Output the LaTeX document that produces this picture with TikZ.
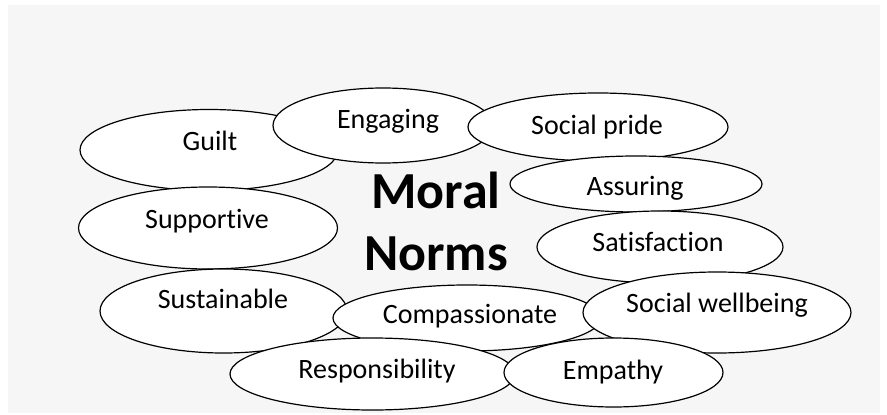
\documentclass[tikz,border=0pt]{standalone}
\usepackage{fontspec}
\setmainfont{Carlito}[Ligatures=NoCommon]
\usetikzlibrary{shapes.geometric}
\definecolor{bggray}{HTML}{F6F6F6}
\tikzset{
  oval/.style={ellipse, draw=black, fill=white, line width=1.2pt, inner sep=0pt},
  lbl/.style={anchor=base, inner sep=0pt, font=\fontsize{28}{34}\selectfont},
  big/.style={anchor=base, inner sep=0pt, font=\fontsize{52}{62}\selectfont\bfseries}
}
\begin{document}
\begin{tikzpicture}[x=1pt,y=-1pt]
\useasboundingbox (0,0) rectangle (887,415);
\fill[bggray] (8,5) rectangle (880,413);
% ellipses, in drawing order
\node[oval, minimum width=258pt, minimum height=81pt] (guilt) at (209,150) {};
\node[oval, minimum width=220pt, minimum height=75pt] (engaging) at (383,125.5) {};
\node[oval, minimum width=260pt, minimum height=68pt] (pride) at (598,127) {};
\node[oval, minimum width=252pt, minimum height=56pt] (assuring) at (636,184) {};
\node[oval, minimum width=246pt, minimum height=72pt] (satisfaction) at (660,247) {};
\node[oval, minimum width=259pt, minimum height=82pt] (supportive) at (208,228) {};
\node[oval, minimum width=247pt, minimum height=84pt] (sustainable) at (223.5,311) {};
\node[oval, minimum width=268pt, minimum height=66pt] (compassionate) at (467,318) {};
\node[oval, minimum width=268pt, minimum height=81pt] (wellbeing) at (717,312.5) {};
\node[oval, minimum width=285pt, minimum height=72pt] (responsibility) at (372.5,374) {};
\node[oval, minimum width=219pt, minimum height=69pt] (empathy) at (613.5,372.5) {};
% labels
\node[lbl] (tguilt) at (210,150) {Guilt};
\node[lbl] (tengaging) at (388,128) {Engaging};
\node[lbl] (tpride) at (597,134) {Social pride};
\node[lbl] (tassuring) at (635,195) {Assuring};
\node[lbl] (tsatisfaction) at (658,251) {Satisfaction};
\node[lbl] (tsupportive) at (207,228) {Supportive};
\node[lbl] (tsustainable) at (223,308) {Sustainable};
\node[lbl] (tcompassionate) at (470,323) {Compassionate};
\node[lbl] (twellbeing) at (717,312) {Social wellbeing};
\node[lbl] (tresponsibility) at (377,378) {Responsibility};
\node[lbl] (tempathy) at (613,379) {Empathy};
\node[big] (moral) at (436,208) {Moral};
\node[big] (norms) at (436,270) {Norms};
\end{tikzpicture}
\end{document}
